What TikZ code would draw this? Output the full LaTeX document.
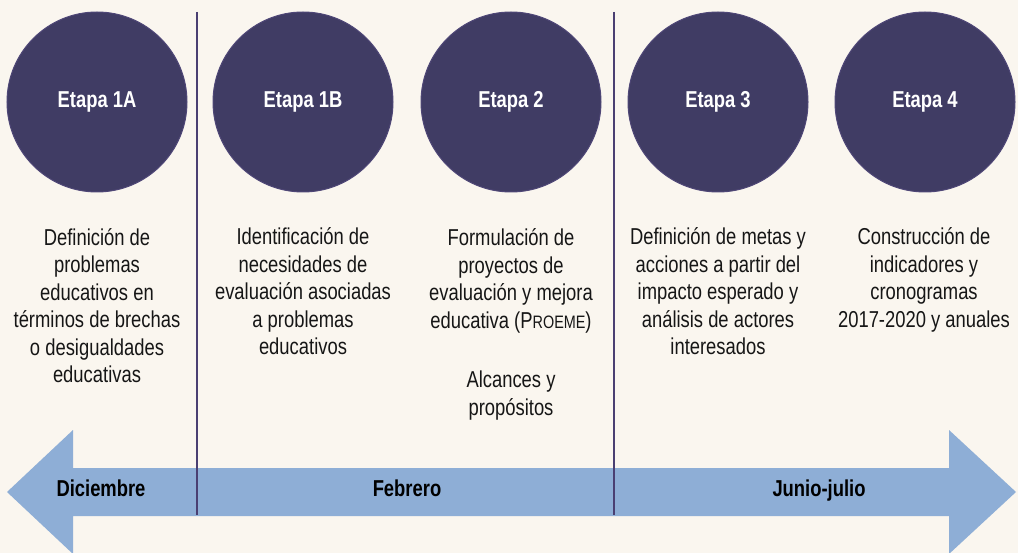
\documentclass[tikz,border=0pt]{standalone}
\usepackage{fontspec}
\setmainfont{Liberation Sans}[FakeStretch=0.8]
\definecolor{bg}{HTML}{FAF6EF}
\definecolor{circfill}{HTML}{403C64}
\definecolor{circline}{HTML}{4F4777}
\definecolor{arrowcol}{HTML}{8EAED6}
\definecolor{sepcol}{HTML}{4A3F72}
\definecolor{txt}{HTML}{161616}
\begin{document}
\begin{tikzpicture}[x=1pt,y=-1pt,
  stage/.style={circle,minimum size=180pt,inner sep=0pt,fill=circfill,draw=circline,line width=1pt,
    text=white,font=\bfseries\fontsize{23}{27}\selectfont},
  desc/.style={align=center,anchor=base,inner sep=0pt,text=txt,font=\fontsize{23}{27.5}\selectfont},
  month/.style={anchor=base,inner sep=0pt,text=black,font=\bfseries\fontsize{23}{27}\selectfont},
  sepline/.style={draw=sepcol,line width=2pt}]
\fill[bg] (0,0) rectangle (1018,553);
\useasboundingbox (0,0) rectangle (1018,553);
% timeline arrow
\fill[arrowcol] (7,492) -- (73,430) -- (73,468) -- (949,468) -- (949,430) -- (1016,492)
  -- (949,554) -- (949,516) -- (73,516) -- (73,554) -- cycle;
\node[month] (m1) at (101,496) {Diciembre};
\node[month] (m2) at (407,496) {Febrero};
\node[month] (m3) at (819,496) {Junio-julio};
% separators
\coordinate (s1t) at (197,12); \coordinate (s1b) at (197,515);
\coordinate (s2t) at (614,12); \coordinate (s2b) at (614,515);
\draw[sepline] (s1t) -- (s1b);
\draw[sepline] (s2t) -- (s2b);
% stages
\node[stage] (e1a) at (97,102) {Etapa 1A};
\node[stage] (e1b) at (303,102) {Etapa 1B};
\node[stage] (e2) at (511,102) {Etapa 2};
\node[stage] (e3) at (718,102) {Etapa 3};
\node[stage] (e4) at (925,102) {Etapa 4};
% descriptions (anchor base = baseline of last line)
\node[desc] (d1a) at (97,382.5) {Definición de\\problemas\\educativos en\\términos de brechas\\o desigualdades\\educativas};
\node[desc] (d1b) at (303,355) {Identificación de\\necesidades de\\evaluación asociadas\\a problemas\\educativos};
\node[desc] (d2) at (511,415) {Formulación de\\proyectos de\\evaluación y mejora\\educativa (P{\fontsize{18}{20}\selectfont ROEME})\\[32pt]Alcances y\\propósitos};
\node[desc] (d3) at (718,355) {Definición de metas y\\acciones a partir del\\impacto esperado y\\análisis de actores\\interesados};
\node[desc] (d4) at (924,327.5) {Construcción de\\indicadores y\\cronogramas\\2017-2020 y anuales};
\end{tikzpicture}
\end{document}
